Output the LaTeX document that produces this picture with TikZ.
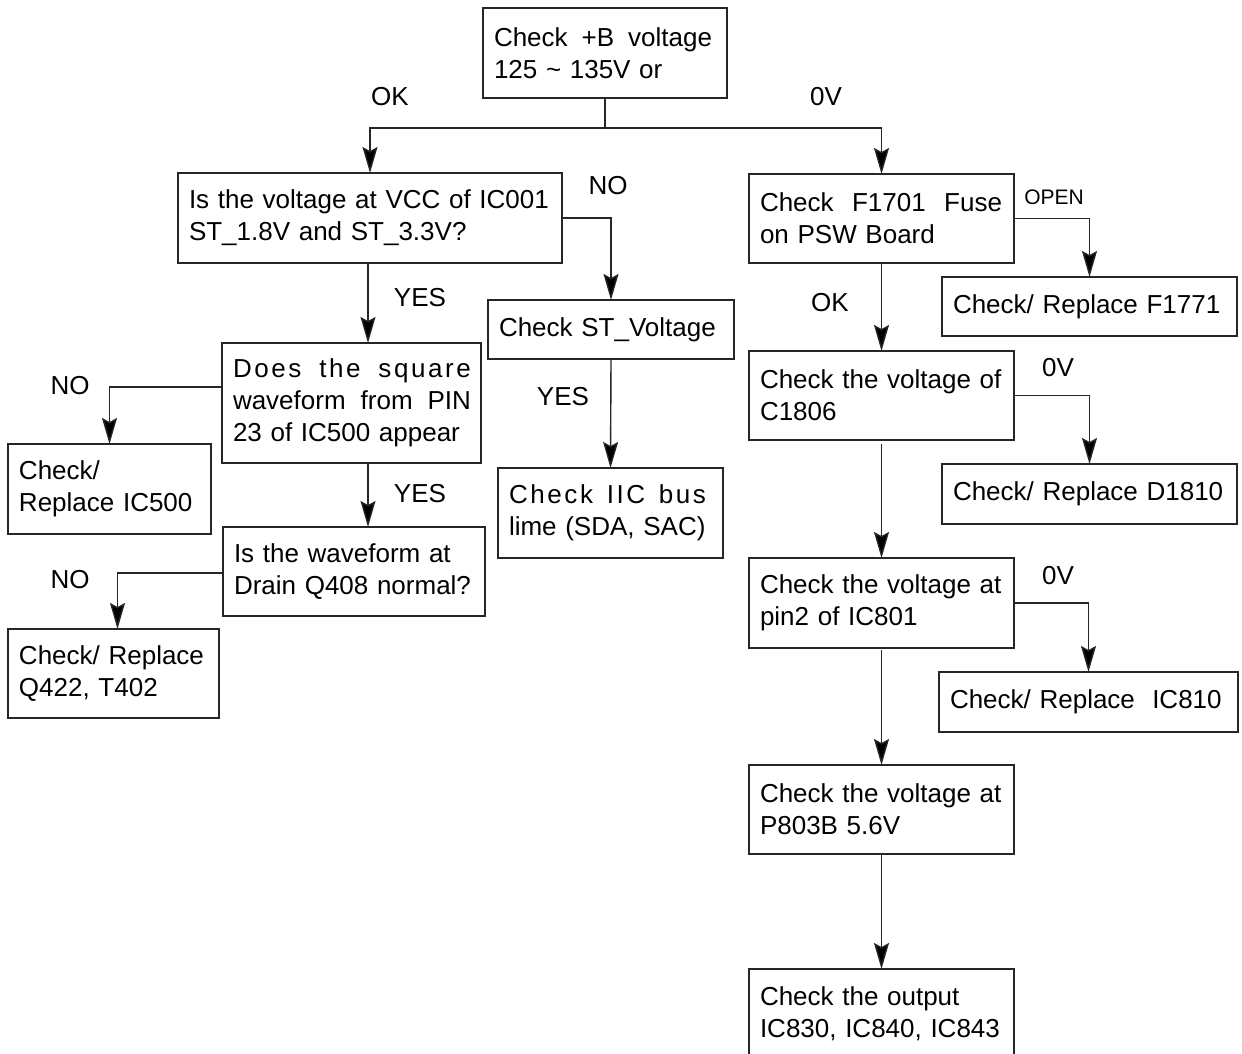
\documentclass[tikz,border=0pt]{standalone}
\usepackage{fontspec}
\setmainfont{Liberation Sans}
\usetikzlibrary{arrows.meta}
\tikzset{
  x=1pt, y=-1pt,
  box/.style={draw=black!85, line width=1.4pt, rectangle, inner xsep=11pt, inner ysep=0pt,
    outer sep=0pt, align=left, anchor=north west,
    font=\fontsize{26}{32}\selectfont},
  lbl/.style={font=\fontsize{26}{30}\selectfont, inner sep=0pt},
  smalllbl/.style={font=\fontsize{21}{24}\selectfont, inner sep=0pt},
  conn/.style={draw=black!85, line width=1.4pt},
  arr/.style={conn, -{Stealth[length=26pt, width=15pt, inset=4pt, fill=black]}},
}
\newcommand\spreadln[2]{\leavevmode\hbox to #1{#2}}
\begin{document}
\begin{tikzpicture}
\clip (0,0) rectangle (1242,1054);
\fill[white] (0,0) rectangle (1242,1054);

% boxes
\node[box, minimum width=244pt, minimum height=90pt, text width=222pt] (top) at (483,8)
  {\spreadln{218pt}{Check\hfill+B\hfill voltage}\\125 \textasciitilde{} 135V or};
\node[box, minimum width=384pt, minimum height=90pt, text width=362pt] (vcc) at (178,173)
  {Is the voltage at VCC of IC001\\ST\_1.8V and ST\_3.3V?};
\node[box, minimum width=246pt, minimum height=59pt, text width=224pt] (stv) at (488,300)
  {Check ST\_Voltage};
\node[box, minimum width=225pt, minimum height=90pt, text width=203pt] (iic) at (498,468)
  {\spreadln{197pt}{\addfontfeature{LetterSpace=10}Check\hfill IIC\hfill bus}\\lime (SDA, SAC)};
\node[box, minimum width=259pt, minimum height=120pt, text width=237pt] (does) at (222,343)
  {\spreadln{238pt}{\addfontfeature{LetterSpace=10}Does\hfill the\hfill square}\\
   \spreadln{238pt}{waveform\hfill from\hfill PIN}\\23 of IC500 appear};
\node[box, minimum width=203pt, minimum height=90pt, text width=181pt] (ic500) at (8,444)
  {Check/\\Replace IC500};
\node[box, minimum width=262pt, minimum height=89pt, text width=240pt] (wave) at (223,527)
  {Is the waveform at\\Drain Q408 normal?};
\node[box, minimum width=211pt, minimum height=89pt, text width=189pt] (q422) at (8,629)
  {Check/ Replace\\Q422, T402};
\node[box, minimum width=265pt, minimum height=89pt, text width=243pt] (f1701) at (749,174)
  {\spreadln{242pt}{Check\hfill F1701\hfill Fuse}\\on PSW Board};
\node[box, minimum width=295pt, minimum height=59pt, text width=273pt] (f1771) at (942,277)
  {Check/ Replace F1771};
\node[box, minimum width=265pt, minimum height=89pt, text width=243pt] (c1806) at (749,351)
  {Check the voltage of\\C1806};
\node[box, minimum width=295pt, minimum height=60pt, text width=273pt] (d1810) at (942,464)
  {Check/ Replace D1810};
\node[box, minimum width=265pt, minimum height=90pt, text width=243pt] (ic801) at (749,558)
  {Check the voltage at\\pin2 of IC801};
\node[box, minimum width=299pt, minimum height=60pt, text width=277pt] (ic810) at (939,672)
  {Check/ Replace\ \ IC810};
\node[box, minimum width=265pt, minimum height=89pt, text width=243pt] (p803) at (749,765)
  {Check the voltage at\\P803B 5.6V};
\node[box, minimum width=265pt, minimum height=90pt, text width=243pt] (out) at (749,969)
  {Check the output\\IC830, IC840, IC843};

% connectors
\coordinate (j) at (605,128);
\draw[conn] (top.south) -- (j);
\draw[arr] (j) -| (vcc.north);
\draw[arr] (j) -| (f1701.north);

\draw[arr] (vcc.east) -| (stv.north);
\draw[arr] (stv.south) -- (iic.north);

\coordinate (lc) at (368,0);
\draw[arr] (lc |- vcc.south) -- (lc |- does.north);
\draw[arr] (lc |- does.south) -- (lc |- wave.north);
\draw[arr] ([yshift=16pt]does.west) -| (ic500.north);
\draw[arr] ([yshift=-1.5pt]wave.west) -| ([xshift=4pt]q422.north);

\draw[arr] (f1701.east) -| (f1771.north);
\draw[arr] (f1701.south) -- (c1806.north);
\draw[arr] (c1806.east) -| (d1810.north);
\draw[arr] ([yshift=-4pt]c1806.south) -- (ic801.north);
\draw[arr] (ic801.east) -| (ic810.north);
\draw[arr] ([yshift=-2pt]ic801.south) -- (p803.north);
\draw[arr] (p803.south) -- (out.north);

% labels
\node[lbl] (lok) at (390,97) {OK};
\node[lbl] (l0v) at (826,97) {0V};
\node[lbl] (lno1) at (608,186) {NO};
\node[lbl] (lyes1) at (420,298) {YES};
\node[lbl] (lyes2) at (563,397) {YES};
\node[lbl] (lno2) at (70,386) {NO};
\node[lbl] (lyes3) at (420,494) {YES};
\node[lbl] (lno3) at (70,580) {NO};
\node[smalllbl] (lopen) at (1054,197) {OPEN};
\node[lbl] (lok2) at (830,303) {OK};
\node[lbl] (l0v2) at (1058,368) {0V};
\node[lbl] (l0v3) at (1058,576) {0V};
\end{tikzpicture}
\end{document}
